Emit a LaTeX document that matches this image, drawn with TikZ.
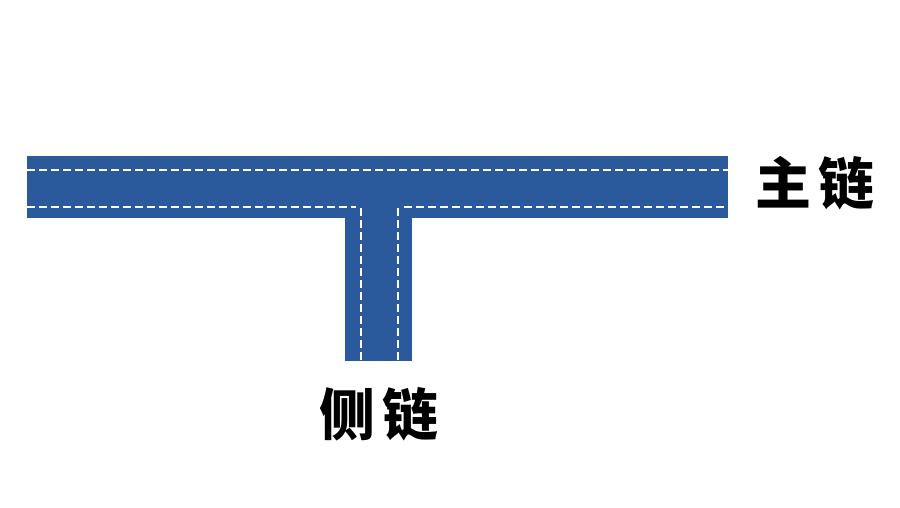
\documentclass[tikz,border=0pt]{standalone}
\usepackage{fontspec}
\newfontfamily\cjk{Noto Sans CJK SC}
\definecolor{chain}{HTML}{2A5A9B}
\tikzset{
  chainfill/.style={fill=chain, draw=none},
  seam/.style={draw=white, line width=1.5pt, dash pattern=on 8pt off 4pt},
  label/.style={font=\cjk\bfseries\fontsize{56}{56}\selectfont, text=black, inner sep=0pt}
}
\begin{document}
\begin{tikzpicture}[x=1pt,y=-1pt]
\useasboundingbox (0,0) rectangle (900,507);
\fill[white] (0,0) rectangle (900,507);
% main chain
\path[chainfill] (27,156) rectangle (728,218);
% side chain
\path[chainfill] (345,217) rectangle (412,361);
% seams
\draw[seam] (27,170) -- (728,170);
\draw[seam] (27,207) -- (356,207);
\draw[seam] (404,207) -- (728,207);
\draw[seam] (361,208) -- (361,361);
\draw[seam] (398,208) -- (398,361);
% labels
\node[label] (main) at (815,183) {主\hspace{7pt}链};
\node[label] (side) at (379,414) {侧\hspace{7pt}链};
\end{tikzpicture}
\end{document}
